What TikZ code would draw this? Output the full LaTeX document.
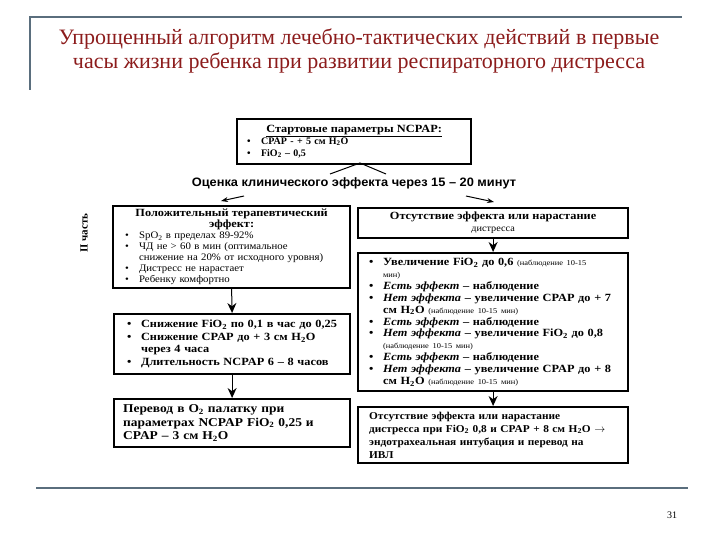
\documentclass[tikz,border=0pt]{standalone}
\usepackage{fontspec}
\setmainfont{Liberation Serif}
\newfontfamily\sansf[FakeStretch=1.05]{Liberation Sans}
\newfontfamily\bxf[FakeStretch=1.12]{Liberation Serif}
\newfontfamily\bxg[FakeStretch=1.08]{Liberation Serif}
\newfontfamily\nrf[FakeStretch=1.08]{Liberation Serif}
\usetikzlibrary{arrows.meta}
\definecolor{titlered}{RGB}{140,28,28}
\definecolor{slate}{RGB}{90,110,125}
\newcommand{\bl}{\makebox[14pt][l]{\textbullet}}
\newcommand{\ct}{\hspace*{14pt}}
\newcommand{\sm}{\fontsize{7.5}{9}\selectfont\mdseries}
\newcommand{\Ht}{H\textsubscript{2}O}
\tikzset{
  box/.style={draw, line width=2.2pt, anchor=north west, inner ysep=0pt, align=left},
  bxt/.style={font=\bxf\fontsize{11}{11.9}\selectfont\bfseries},
  nrm/.style={font=\nrf\fontsize{10}{11}\selectfont},
  arr/.style={line width=1pt, -{Stealth[length=10pt,width=9pt]}},
  sarr/.style={line width=1pt, -{Stealth[length=7pt,width=5pt]}},
  frame/.style={slate, line width=2pt},
}
\begin{document}
\begin{tikzpicture}[x=1pt,y=-1pt]
\useasboundingbox (0,0) rectangle (720,540);
% frame lines
\coordinate (ftl) at (30,17);
\coordinate (ftr) at (682,17);
\coordinate (fbl) at (30,90);
\draw[frame] (fbl) -- (ftl) -- (ftr);
\coordinate (bl1) at (36,488);
\coordinate (bl2) at (688,488);
\draw[frame] (bl1) -- (bl2);
% title
\node[titlered, font=\fontsize{22}{24}\selectfont, align=center] (title) at (359,51)
  {Упрощенный алгоритм лечебно-тактических действий в первые\\часы жизни ребенка при развитии респираторного дистресса};
\node[font=\fontsize{10}{12}\selectfont] (pnum) at (672,515) {31};
% start box
\node[box, font=\fontsize{10}{12}\selectfont\bfseries, inner xsep=10pt, text width=214pt, minimum width=234pt, minimum height=45pt] (start) at (236,118)
  {\makebox[\linewidth]{\bxf\fontsize{11}{12}\selectfont\bfseries\underline{Стартовые параметры NCPAP:}}\\
   \bl CPAP - + 5 см \Ht\\
   \bl FiO\textsubscript{2} – 0,5};
% tent
\coordinate (apex) at (360,163);
\coordinate (tl) at (330,174);
\coordinate (tr) at (386,174);
\draw[line width=1pt] (tl) -- (apex) -- (tr);
% evaluation text
\node[font=\sansf\fontsize{12.2}{14}\selectfont\bfseries] (eval) at (354,183) {Оценка клинического эффекта через 15 – 20 минут};
\coordinate (la1) at (244,196);
\coordinate (la2) at (221,201);
\coordinate (ra1) at (466,196);
\coordinate (ra2) at (494,202);
\draw[sarr] (la1) -- (la2);
\draw[sarr] (ra1) -- (ra2);
% II part
\node[rotate=90, font=\fontsize{11}{13}\selectfont\bfseries] (part) at (84,233) {II часть};
% left column
\node[box, nrm, inner xsep=12pt, text width=213pt, minimum width=237pt, minimum height=82pt] (pos) at (112,205)
  {\makebox[\linewidth]{\bxf\fontsize{11}{11}\selectfont\bfseries Положительный терапевтический}\\
   \makebox[\linewidth]{\bxf\fontsize{11}{11}\selectfont\bfseries эффект:}\\
   \bl SpO\textsubscript{2} в пределах 89-92\%\\
   \bl ЧД не > 60 в мин (оптимальное\\
   \ct снижение на 20\% от исходного уровня)\\
   \bl Дистресс не нарастает\\
   \bl Ребенку комфортно};
\node[box, bxt, font=\bxf\fontsize{11}{12.5}\selectfont\bfseries, inner xsep=13pt, text width=210pt, minimum width=236pt, minimum height=60pt] (dec) at (113,313)
  {\bl Снижение FiO\textsubscript{2} по 0,1 в час до 0,25\\
   \bl Снижение CPAP до + 3 см \Ht\\
   \ct через 4 часа\\
   \bl Длительность NCPAP 6 – 8 часов};
\node[box, font=\bxf\fontsize{12}{13.5}\selectfont\bfseries, inner xsep=9pt, text width=218pt, minimum width=236pt, minimum height=48pt] (tent) at (113,398)
  {Перевод в O\textsubscript{2} палатку при\\
   параметрах NCPAP FiO\textsubscript{2} 0,25 и\\
   CPAP – 3 см \Ht};
% right column
\node[box, inner xsep=8pt, text width=254pt, minimum width=270pt, minimum height=30pt, align=center] (noeff) at (357,207)
  {{\bxf\fontsize{11}{12}\selectfont\bfseries Отсутствие эффекта или нарастание}\\
   {\nrf\fontsize{9.5}{11}\selectfont дистресса}};
\node[box, bxt, inner xsep=11pt, text width=248pt, minimum width=270pt, minimum height=138pt] (steps) at (357,252)
  {\bl Увеличение FiO\textsubscript{2} до 0,6 {\sm (наблюдение 10-15}\\
   \ct {\sm мин)}\\
   \bl \textit{Есть эффект} – наблюдение\\
   \bl \textit{Нет эффекта} – увеличение CPAP до + 7\\
   \ct см \Ht\ {\sm (наблюдение 10-15 мин)}\\
   \bl \textit{Есть эффект} – наблюдение\\
   \bl \textit{Нет эффекта} – увеличение FiO\textsubscript{2} до 0,8\\
   \ct {\sm (наблюдение 10-15 мин)}\\
   \bl \textit{Есть эффект} – наблюдение\\
   \bl \textit{Нет эффекта} – увеличение CPAP до + 8\\
   \ct см \Ht\ {\sm (наблюдение 10-15 мин)}};
\node[box, font=\bxg\fontsize{10.5}{13}\selectfont\bfseries, inner xsep=11pt, text width=248pt, minimum width=270pt, minimum height=56pt] (ivl) at (357,406)
  {Отсутствие эффекта или нарастание\\
   дистресса при FiO\textsubscript{2} 0,8 и CPAP + 8 см \Ht\ $\rightarrow$\\
   эндотрахеальная интубация и перевод на\\
   ИВЛ};
% arrows
\draw[arr] (pos.south) -- (dec.north);
\draw[arr] (dec.south) -- (tent.north);
\draw[arr] (noeff.south) -- (steps.north);
\draw[arr] (steps.south) -- (ivl.north);
\end{tikzpicture}
\end{document}
